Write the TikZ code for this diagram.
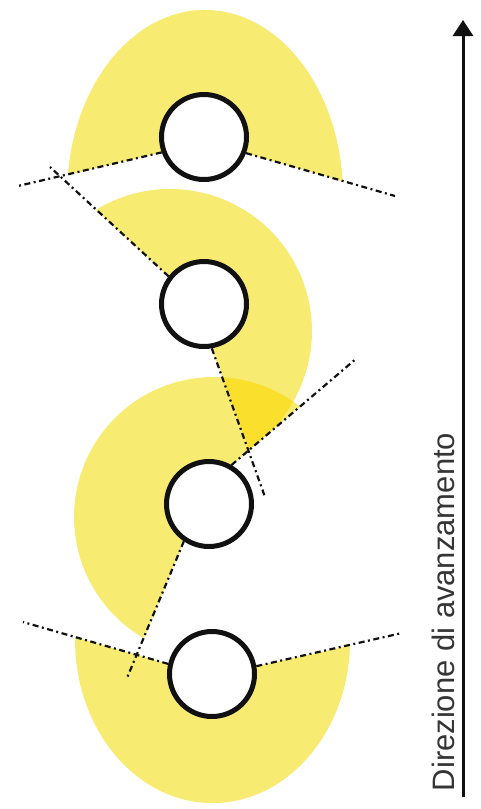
\documentclass[tikz,border=0pt]{standalone}
\usepackage{fontspec}
\setmainfont{Liberation Sans}
\usepackage{tikz}
\usetikzlibrary{arrows.meta,backgrounds}
\definecolor{petal}{HTML}{F8EB72}
\definecolor{overlap}{HTML}{FAE02C}
\definecolor{ink}{HTML}{111111}

% lobes swept round each hole
\newcommand{\lobeA}{(c1.center) -- (c1.200) -- (67.8,175) arc[start angle=173.8,end angle=4.3,x radius=138pt,y radius=185pt] -- (c1.-21) -- cycle}
\newcommand{\lobeB}{(c2.center) -- (c2.142) -- (96,209.8) arc[start angle=121.4,end angle=-56.2,radius=142pt] -- (c2.-80) -- cycle}
\newcommand{\lobeC}{(c3.center) -- (c3.60) -- (300.2,406.7) arc[start angle=52,end angle=240,radius=140pt] -- (c3.236) -- cycle}
\newcommand{\lobeD}{(c4.center) -- (c4.167) -- (75.1,637.2) arc[start angle=179,end angle=358,x radius=137.5pt,y radius=163pt] -- (c4.10) -- cycle}

\begin{document}
\begin{tikzpicture}[x=1pt,y=-1pt,
  hole/.style={circle,draw=ink,line width=5pt,fill=white,minimum size=85pt,inner sep=0pt},
  axis/.style={draw=ink,line width=2.2pt,dash pattern=on 6pt off 3.5pt on 2pt off 3.5pt},
  advance/.style={-{Triangle[length=16pt,width=20pt]},line width=3pt,draw=ink},
]
\useasboundingbox (0,0) rectangle (481,809);

% --- holes
\node[hole] (c1) at (204,137) {};
\node[hole] (c2) at (204,304) {};
\node[hole] (c3) at (209,504) {};
\node[hole] (c4) at (212,674) {};

% --- free ends of the axes
\coordinate (a1) at (18,186);
\coordinate (a2) at (395,196);
\coordinate (b1) at (50,167);
\coordinate (b2) at (265,497);
\coordinate (d1) at (357,358);
\coordinate (d2) at (127,678);
\coordinate (f1) at (23,622);
\coordinate (f2) at (402,633);

\begin{scope}[on background layer]
\fill[white] (0,0) rectangle (481,809);
\fill[petal] \lobeA;
\fill[petal] \lobeB;
\fill[petal] \lobeC;
\fill[petal] \lobeD;
\begin{scope}
\clip \lobeB;
\fill[overlap] \lobeC;
\end{scope}
\draw[axis] (c1.200) -- (a1);
\draw[axis] (c1.-21) -- (a2);
\draw[axis] (c2.142) -- (b1);
\draw[axis] (c2.-80) -- (b2);
\draw[axis] (c3.60) -- (d1);
\draw[axis] (c3.236) -- (d2);
\draw[axis] (c4.167) -- (f1);
\draw[axis] (c4.10) -- (f2);
\end{scope}

% --- direction of travel
\coordinate (tail) at (463,797);
\coordinate (head) at (463,20);
\draw[advance] (tail) -- (head);
\node[rotate=90,font=\fontsize{31}{36}\selectfont,text=ink!85] (lbl) at (443,612) {Direzione di avanzamento};
\end{tikzpicture}
\end{document}
